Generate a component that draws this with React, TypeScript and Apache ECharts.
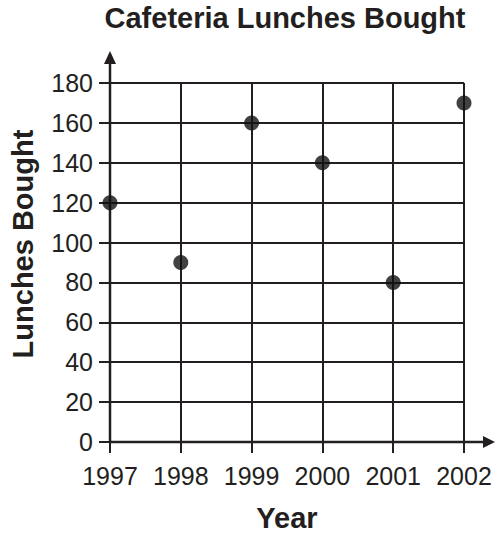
import React, { useEffect, useRef } from "react";
import * as echarts from "echarts";

const years = [1997, 1998, 1999, 2000, 2001, 2002];
const lunches = [120, 90, 160, 140, 80, 170];
const yTicks = [0, 20, 40, 60, 80, 100, 120, 140, 160, 180];

const INK = "#231f20";
const FONT = "'Liberation Sans', Arial, Helvetica, sans-serif";

export default function App() {
  const ref = useRef<HTMLDivElement>(null);
  useEffect(() => {
    document.body.style.margin = "0";
    const chart = echarts.init(ref.current!, null, { renderer: "svg" });
    const G = { left: 110, top: 83, right: 32, bottom: 91 };
    const W = 496, H = 533;
    const x0 = G.left, y0 = H - G.bottom;
    const boldText = { fontFamily: FONT, fontSize: 29, fontWeight: "bold", fill: INK };
    chart.setOption({
      animation: false,
      backgroundColor: "#ffffff",
      grid: { ...G, containLabel: false },
      xAxis: {
        type: "value",
        min: years[0],
        max: years[years.length - 1],
        interval: 1,
        axisLine: { show: false },
        axisTick: { show: true, length: 11, lineStyle: { color: INK, width: 2 } },
        axisLabel: {
          margin: 21,
          fontFamily: FONT,
          fontSize: 25,
          color: INK,
          formatter: (v: number) => String(v),
        },
        splitLine: { show: true, lineStyle: { color: INK, width: 2 } },
      },
      yAxis: {
        type: "value",
        min: yTicks[0],
        max: yTicks[yTicks.length - 1],
        interval: 20,
        axisLine: { show: false },
        axisTick: { show: true, length: 11, lineStyle: { color: INK, width: 2 } },
        axisLabel: { margin: 17, fontFamily: FONT, fontSize: 25, color: INK },
        splitLine: { show: true, lineStyle: { color: INK, width: 2 } },
      },
      graphic: [
        {
          type: "text",
          x: 285,
          y: 18,
          style: { ...boldText, text: "Cafeteria Lunches Bought", align: "center", verticalAlign: "middle" },
        },
        {
          type: "text",
          x: 287,
          y: 518,
          style: { ...boldText, text: "Year", align: "center", verticalAlign: "middle" },
        },
        {
          type: "text",
          x: 23,
          y: 244,
          rotation: Math.PI / 2,
          style: { ...boldText, text: "Lunches Bought", align: "center", verticalAlign: "middle" },
        },
        { type: "line", shape: { x1: x0, y1: y0, x2: x0, y2: 62 }, style: { stroke: INK, lineWidth: 2.5 }, z: 10 },
        { type: "polygon", shape: { points: [[x0, 51], [x0 - 6, 64], [x0 + 6, 64]] }, style: { fill: INK }, z: 10 },
        { type: "line", shape: { x1: x0, y1: y0, x2: 485, y2: y0 }, style: { stroke: INK, lineWidth: 2.5 }, z: 10 },
        { type: "polygon", shape: { points: [[W - 1, y0], [483, y0 - 6], [483, y0 + 6]] }, style: { fill: INK }, z: 10 },
      ],
      series: [
        {
          type: "scatter",
          data: years.map((y, i) => [y, lunches[i]]),
          symbol: "circle",
          symbolSize: 15,
          itemStyle: { color: "#111111" },
          clip: false,
          z: 20,
        },
      ],
    });
    return () => chart.dispose();
  }, []);
  return <div ref={ref} style={{ width: 496, height: 533 }} />;
}
